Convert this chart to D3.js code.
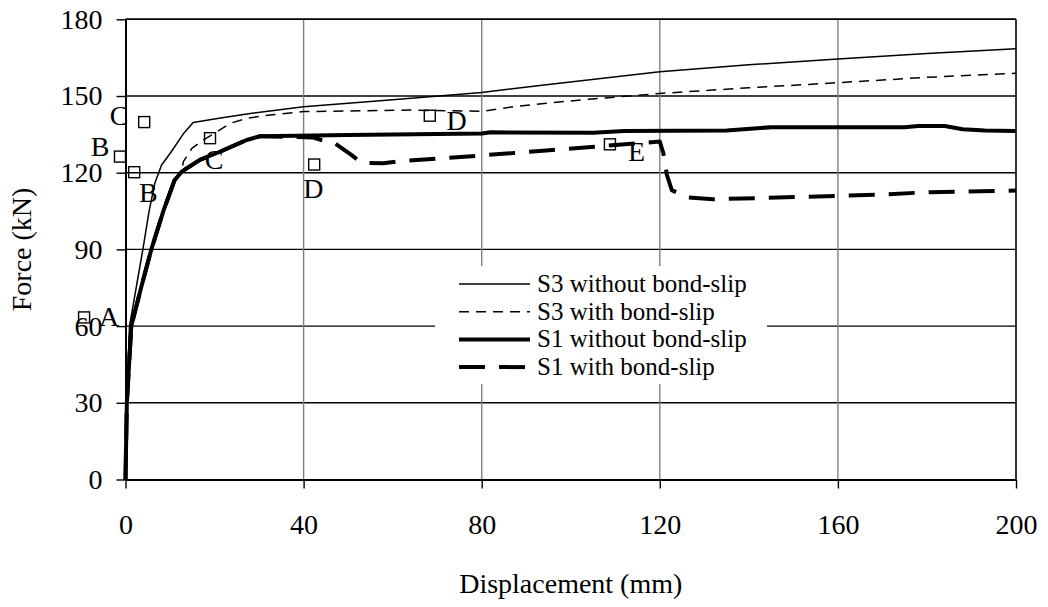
<!DOCTYPE html>
<html>
<head>
<meta charset="utf-8">
<script src="https://cdn.jsdelivr.net/npm/d3@7"></script>
<style>
  body { margin: 0; background: #fff; }
  svg { display: block; font-family: "Liberation Serif", "Times New Roman", serif; }
</style>
</head>
<body>
<div id="chart"></div>
<script>
// data, [displacement mm, force kN]
var s3NoSlip = [[0,0],[0.3,30],[0.9,60],[2.4,75],[3.9,90],[5.3,105],[6.6,116],[8.1,123],[10,127.5],[13,135.2],[15.2,139.6],[21,141.3],[28,143.2],[40,145.8],[60,148.5],[80,151.4],[95,154.5],[120,159.5],[140,162.2],[160,164.5],[180,166.6],[200,168.5]];
var s3Slip = [[0,0],[0.3,30],[1.3,60],[3.5,75],[5.8,90],[8.5,105],[11,117],[12.6,120.4],[13,124.3],[14.9,129.5],[17.5,132.8],[20.5,136],[23.5,139.3],[27.2,141.3],[32.5,142.6],[40,143.9],[64,144.5],[80,144],[88,146],[94,147.1],[104,148.7],[120,151],[140,153.2],[160,155.2],[180,157.3],[200,158.9]];
var s1NoSlip = [[0,0],[0.3,30],[1.3,60],[3.5,75],[5.8,90],[8.5,105],[11,117],[12.6,120.4],[16.7,125],[21.2,128.2],[27.2,132.8],[30.3,134.3],[50,134.7],[80,135.3],[82,135.8],[105,135.6],[112,136.3],[135,136.5],[145,137.8],[175,137.8],[178,138.3],[184,138.3],[188,137],[193,136.5],[200,136.3]];
var s1Slip = [[0,0],[0.3,30],[1.3,60],[3.5,75],[5.8,90],[8.5,105],[11,117],[12.6,120.4],[16.7,125],[21.2,128.2],[27.2,132.8],[30.3,134.3],[42,133.8],[44,132.8],[47,131.5],[50.8,126.9],[53,123.9],[57.9,123.7],[62.4,124.6],[74.4,126],[93.8,128.6],[110,130.8],[120,132.2],[120.8,127.6],[121.6,119.1],[122.7,113.2],[126,110.4],[132,109.6],[153,110.6],[170,111.5],[180.7,112.4],[200,113]];

var seriesNames = ["S3 without bond-slip", "S3 with bond-slip", "S1 without bond-slip", "S1 with bond-slip"];

// square markers and letter labels (data coords)
var markerPts = [[-9.3,63.4],[-1.24,126.3],[1.95,120.2],[4.2,139.8],[18.98,133.5],[42.38,123.2],[68.34,142.3],[108.8,131.1]];
var labelText = ["A","B","C","B","C","D","D","E"];
var labelPts = [[-3.7,63.7],[-5.73,130.2],[-1.46,142.2],[5.12,112.1],[19.88,125],[42.18,113.9],[74.38,140.2],[114.8,128.2]];

var xTicks = [0, 40, 80, 120, 160, 200];
var yTicks = [0, 30, 60, 90, 120, 150, 180];

var W = 1048, H = 607;
var svg = d3.select("#chart").append("svg")
  .attr("width", W)
  .attr("height", H);

var x = d3.scaleLinear().domain([0, 200]).range([125.5, 1016]);
var y = d3.scaleLinear().domain([0, 180]).range([479.5, 19.3]);

// grid
svg.append("g").selectAll("line")
  .data(yTicks.filter(function (d) { return d > 0; }))
  .enter().append("line")
  .attr("x1", x(0)).attr("x2", x(200))
  .attr("y1", function (d) { return y(d); })
  .attr("y2", function (d) { return y(d); })
  .attr("stroke", "#000").attr("stroke-width", 1.4);

svg.append("g").selectAll("line")
  .data(xTicks.filter(function (d) { return d > 0 && d < 200; }))
  .enter().append("line")
  .attr("y1", y(0)).attr("y2", y(180))
  .attr("x1", function (d) { return x(d); })
  .attr("x2", function (d) { return x(d); })
  .attr("stroke", "#808080").attr("stroke-width", 1.4);

svg.append("line")
  .attr("x1", x(200)).attr("x2", x(200))
  .attr("y1", y(0)).attr("y2", y(180))
  .attr("stroke", "#000").attr("stroke-width", 1.6);

// legend background hides the grid behind it
svg.append("rect")
  .attr("x", 435).attr("y", 266)
  .attr("width", 332).attr("height", 118)
  .attr("fill", "#fff");

var line = d3.line()
  .x(function (d) { return x(d[0]); })
  .y(function (d) { return y(d[1]); });

var styles = [
  { w: 1.5, dash: null },
  { w: 1.5, dash: "10,7" },
  { w: 4, dash: null },
  { w: 4, dash: "26,14" }
];
var allSeries = [s3NoSlip, s3Slip, s1NoSlip, s1Slip];

svg.append("g").selectAll("path")
  .data(allSeries)
  .enter().append("path")
  .attr("d", line)
  .attr("fill", "none")
  .attr("stroke", "#000")
  .attr("stroke-linejoin", "round")
  .attr("stroke-width", function (d, i) { return styles[i].w; })
  .attr("stroke-dasharray", function (d, i) { return styles[i].dash; });

// markers
svg.append("g").selectAll("rect")
  .data(markerPts)
  .enter().append("rect")
  .attr("x", function (d) { return x(d[0]) - 5.5; })
  .attr("y", function (d) { return y(d[1]) - 5.5; })
  .attr("width", 11).attr("height", 11)
  .attr("fill", "none")
  .attr("stroke", "#000")
  .attr("stroke-width", 1.4);

svg.append("g").selectAll("text")
  .data(labelPts)
  .enter().append("text")
  .attr("x", function (d) { return x(d[0]); })
  .attr("y", function (d) { return y(d[1]); })
  .attr("dy", "0.33em")
  .attr("text-anchor", "middle")
  .attr("font-size", 28)
  .text(function (d, i) { return labelText[i]; });

// axes
var xAxis = svg.append("g")
  .attr("transform", "translate(0," + y(0) + ")")
  .call(d3.axisBottom(x).tickValues(xTicks).tickSize(9).tickSizeOuter(0).tickPadding(8));
var yAxis = svg.append("g")
  .attr("transform", "translate(" + x(0) + ",0)")
  .call(d3.axisLeft(y).tickValues(yTicks).tickSize(9).tickSizeOuter(0).tickPadding(14));

[xAxis, yAxis].forEach(function (a) {
  a.select(".domain").attr("stroke", "#000").attr("stroke-width", 2);
  a.selectAll(".tick line").attr("stroke", "#000").attr("stroke-width", 1.4);
  a.selectAll(".tick text")
    .attr("font-family", "Liberation Serif, Times New Roman, serif")
    .attr("font-size", 28)
    .attr("fill", "#000");
});
xAxis.selectAll(".tick text").attr("dy", "1.33em");

// top border
svg.append("line")
  .attr("x1", x(0)).attr("x2", x(200))
  .attr("y1", y(180)).attr("y2", y(180))
  .attr("stroke", "#000").attr("stroke-width", 1.6);

// axis titles
svg.append("text")
  .attr("x", (x(0) + x(200)) / 2)
  .attr("y", 593)
  .attr("text-anchor", "middle")
  .attr("font-size", 28)
  .text("Displacement (mm)");

svg.append("text")
  .attr("transform", "translate(31," + (y(0) + y(180)) / 2 + ") rotate(-90)")
  .attr("text-anchor", "middle")
  .attr("font-size", 28)
  .text("Force (kN)");

// legend
var legend = svg.append("g").selectAll("g")
  .data(seriesNames)
  .enter().append("g")
  .attr("transform", function (d, i) { return "translate(0," + (284 + i * 27.7) + ")"; });

legend.append("line")
  .attr("x1", 459).attr("x2", 530)
  .attr("stroke", "#000")
  .attr("stroke-width", function (d, i) { return styles[i].w; })
  .attr("stroke-dasharray", function (d, i) { return styles[i].dash; });

legend.append("text")
  .attr("x", 537)
  .attr("dy", "0.32em")
  .attr("font-size", 25)
  .text(function (d) { return d; });
</script>
</body>
</html>
